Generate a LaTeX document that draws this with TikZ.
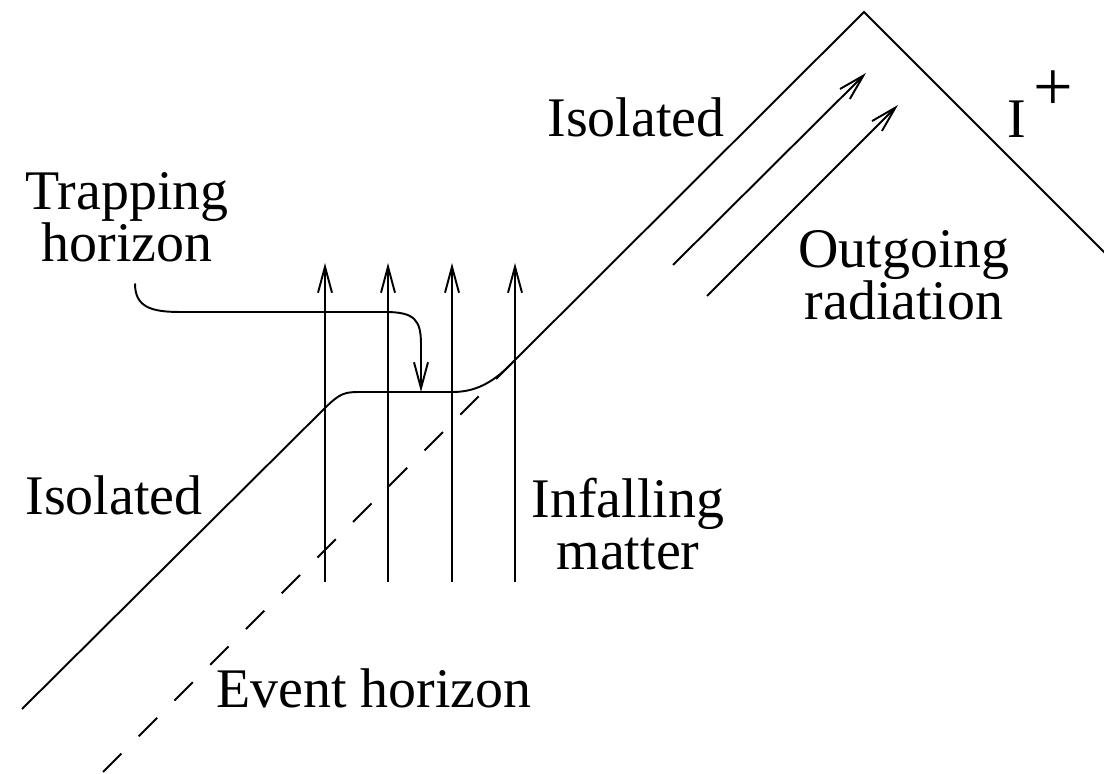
\documentclass[tikz,border=0pt]{standalone}
\usepackage{fontspec}
\setmainfont{Liberation Serif}
\usetikzlibrary{arrows.meta}

\begin{document}
\begin{tikzpicture}[x=.01cm,y=-.01cm,line width=.55pt,
    >={Straight Barb[length=.26cm,width=.14cm]},
    lbl/.style={inner sep=0pt,anchor=base,align=center},
    font=\fontsize{15.9}{14.9}\selectfont]
  \useasboundingbox (0,0) rectangle (1104,774);
  \draw (22,709)--(325,408) .. controls (340,393) and (345,392) .. (360,392)
    --(453,392) .. controls (480,392) and (498,378) .. (515,360)
    --(864,12)--(1106,254);
  \draw[dash pattern=on .26cm off .245cm] (103,772)--(515,360);
  \foreach \x in {325,388,452,515}
    \draw[->] (\x,582)--(\x,263);
  \draw[->] (673,265)--(866,73);
  \draw[->] (707,296)--(898,105);
  \node[lbl] (iso1) at (636,137) {Isolated};
  \node[lbl,anchor=base west] (scri) at (1007,138)
    {I\hspace{.12em}\raisebox{.5em}{\fontsize{20}{20}\selectfont +}};
  \node[lbl] (trap) at (127,262) {Trapping\\horizon};
  \node[lbl] (out) at (904,320) {Outgoing\\radiation};
  \node[lbl] (iso2) at (114,515) {Isolated};
  \node[lbl] (inf) at (628,570) {Infalling\\matter};
  \node[lbl] (ev) at (374,708) {Event horizon};
  \coordinate (th) at (421,392);
  \draw[->] ([shift={(8,20)}]trap.south) .. controls +(0,23) and (150,312) .. (180,312)
    --(385,312) .. controls (415,312) and (421,320) .. (421,345)--(th);
\end{tikzpicture}
\end{document}
